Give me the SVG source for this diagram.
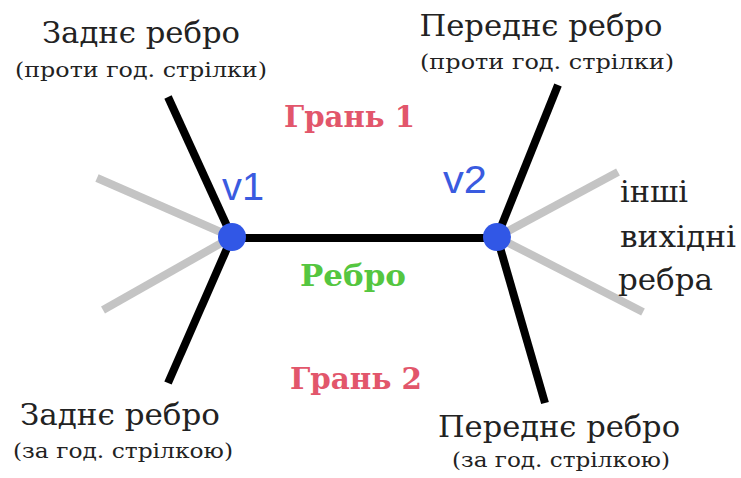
<svg xmlns="http://www.w3.org/2000/svg" width="741" height="478" viewBox="0 0 741 478">
<style>
.t{font-family:"DejaVu Serif","Liberation Serif",serif;fill:#222;text-anchor:middle}
.big{font-size:30px}
.sm{font-size:20px}
.face{font-family:"DejaVu Serif","Liberation Serif",serif;font-weight:bold;font-size:29px;fill:#e2566b}
.edge{font-family:"DejaVu Serif","Liberation Serif",serif;font-weight:bold;font-size:29px;fill:#55c640}
.vl{font-family:"Liberation Sans",Arial,sans-serif;font-size:38px;fill:#3a5be0}
.blk{stroke:#000;stroke-width:8;stroke-linecap:butt}
.gry{stroke:#c4c4c4;stroke-width:8}
.dot{fill:#3157e6}
</style>
<rect width="741" height="478" fill="#fff"/>
<g id="connectors">
<line class="gry" x1="97" y1="178" x2="232" y2="237"/>
<line class="gry" x1="103" y1="310" x2="232" y2="237"/>
<line class="gry" x1="618" y1="172" x2="497" y2="237"/>
<line class="gry" x1="643" y1="312" x2="497" y2="237"/>
<line class="blk" x1="168" y1="97" x2="232" y2="237"/>
<line class="blk" x1="168" y1="383" x2="232" y2="237"/>
<line class="blk" x1="558" y1="85" x2="497" y2="237"/>
<line class="blk" x1="545" y1="403" x2="497" y2="237"/>
<line class="blk" x1="232" y1="238" x2="497" y2="238"/>
</g>
<g id="v1"><circle class="dot" cx="232" cy="237" r="14"/><text class="vl" x="222" y="200" textLength="42" lengthAdjust="spacingAndGlyphs">v1</text></g>
<g id="v2"><circle class="dot" cx="497" cy="237" r="14"/><text class="vl" x="443" y="193" textLength="44" lengthAdjust="spacingAndGlyphs">v2</text></g>
<g id="face1"><text class="face" x="284" y="127" textLength="131" lengthAdjust="spacingAndGlyphs">Грань 1</text></g>
<g id="face2"><text class="face" x="290" y="389" textLength="132" lengthAdjust="spacingAndGlyphs">Грань 2</text></g>
<g id="edge"><text class="edge" x="300" y="286" textLength="106" lengthAdjust="spacingAndGlyphs">Ребро</text></g>
<g id="prev-ccw">
<text class="t big" x="141" y="43" textLength="198" lengthAdjust="spacingAndGlyphs">Заднє ребро</text>
<text class="t sm" x="141" y="77" textLength="252" lengthAdjust="spacingAndGlyphs">(проти год. стрілки)</text>
</g>
<g id="next-ccw">
<text class="t big" x="541" y="36" textLength="243" lengthAdjust="spacingAndGlyphs">Переднє ребро</text>
<text class="t sm" x="547" y="69" textLength="254" lengthAdjust="spacingAndGlyphs">(проти год. стрілки)</text>
</g>
<g id="prev-cw">
<text class="t big" x="120" y="425" textLength="200" lengthAdjust="spacingAndGlyphs">Заднє ребро</text>
<text class="t sm" x="123" y="458" textLength="220" lengthAdjust="spacingAndGlyphs">(за год. стрілкою)</text>
</g>
<g id="next-cw">
<text class="t big" x="559" y="437" textLength="242" lengthAdjust="spacingAndGlyphs">Переднє ребро</text>
<text class="t sm" x="561" y="467" textLength="218" lengthAdjust="spacingAndGlyphs">(за год. стрілкою)</text>
</g>
<g id="others">
<text class="t big" x="620" y="202" style="text-anchor:start" textLength="68" lengthAdjust="spacingAndGlyphs">інші</text>
<text class="t big" x="620" y="247" style="text-anchor:start" textLength="116" lengthAdjust="spacingAndGlyphs">вихідні</text>
<text class="t big" x="618" y="290" style="text-anchor:start" textLength="95" lengthAdjust="spacingAndGlyphs">ребра</text>
</g>
</svg>
